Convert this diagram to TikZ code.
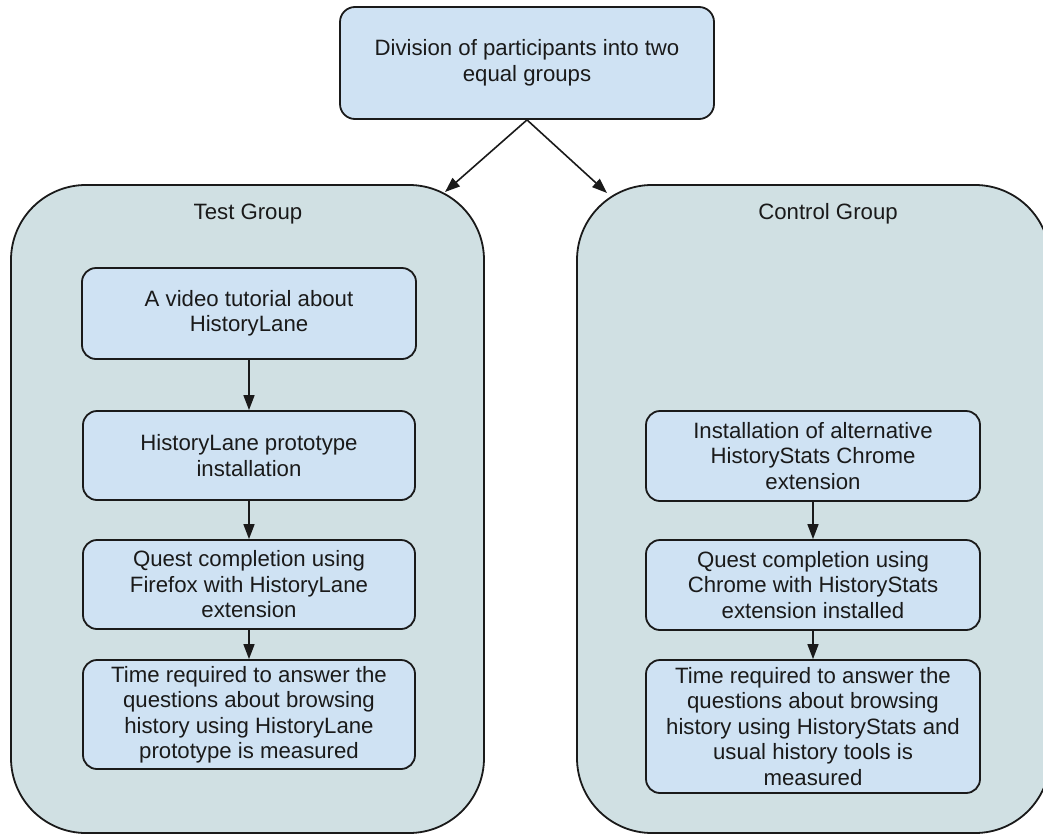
\documentclass[tikz,border=0pt]{standalone}
\usepackage{fontspec}
\setmainfont{Liberation Sans}
\usetikzlibrary{arrows.meta}
\definecolor{boxblue}{HTML}{CFE2F3}
\definecolor{groupfill}{HTML}{D0E0E3}
\definecolor{inkc}{HTML}{1A1A1A}
\tikzset{
  basefont/.style={font=\fontsize{22.2}{25.5}\selectfont, text=inkc},
  stepbox/.style={basefont, draw=inkc, line width=1.8pt, fill=boxblue, rounded corners=14pt,
    rectangle, align=center, inner sep=0pt},
  groupbox/.style={draw=inkc, line width=1.8pt, fill=groupfill, rounded corners=75pt,
    rectangle, inner sep=0pt},
  titletext/.style={basefont, inner sep=0pt},
  flow/.style={draw=inkc, line width=1.6pt, -{Triangle[length=15pt,width=11pt]}}
}
\begin{document}
\begin{tikzpicture}[x=1pt,y=-1pt]
\clip (0,0) rectangle (1043,835);
\fill[white] (0,0) rectangle (1043,835);
% groups
\node[groupbox, minimum width=473pt, minimum height=648pt] (testg) at (247.5,509) {};
\node[groupbox, minimum width=473pt, minimum height=648pt] (ctrlg) at (813.5,509) {};
\node[titletext] (testt) at (248,214) {Test Group};
\node[titletext] (ctrlt) at (828,214) {Control Group};
% top box
\node[stepbox, minimum width=374pt, minimum height=112pt, rounded corners=15pt] (top) at (527,63)
  {Division of participants into two\\equal groups};
% left column
\node[stepbox, minimum width=334pt, minimum height=91pt] (l1) at (249,313.5)
  {A video tutorial about\\HistoryLane};
\node[stepbox, minimum width=332pt, minimum height=89pt] (l2) at (249,455.5)
  {HistoryLane prototype\\installation};
\node[stepbox, minimum width=332pt, minimum height=89pt] (l3) at (249,584.5)
  {Quest completion using\\Firefox with HistoryLane\\extension};
\node[stepbox, minimum width=332pt, minimum height=109pt] (l4) at (249,714.5)
  {Time required to answer the\\questions about browsing\\history using HistoryLane\\prototype is measured};
% right column
\node[stepbox, minimum width=334pt, minimum height=90pt] (r1) at (813,456)
  {Installation of alternative\\HistoryStats Chrome\\extension};
\node[stepbox, minimum width=334pt, minimum height=90pt] (r2) at (813,585)
  {Quest completion using\\Chrome with HistoryStats\\extension installed};
\node[stepbox, minimum width=334pt, minimum height=133pt] (r3) at (813,726.5)
  {Time required to answer the\\questions about browsing\\history using HistoryStats and\\usual history tools is\\measured};
% connectors
\coordinate (tipl) at (445,192);
\coordinate (tipr) at (607,193);
\draw[flow] (top.south) -- (tipl);
\draw[flow] (top.south) -- (tipr);
\draw[flow] (l1.south) -- (l2.north);
\draw[flow] (l2.south) -- (l3.north);
\draw[flow] (l3.south) -- (l4.north);
\draw[flow] (r1.south) -- (r2.north);
\draw[flow] (r2.south) -- (r3.north);
\end{tikzpicture}
\end{document}
